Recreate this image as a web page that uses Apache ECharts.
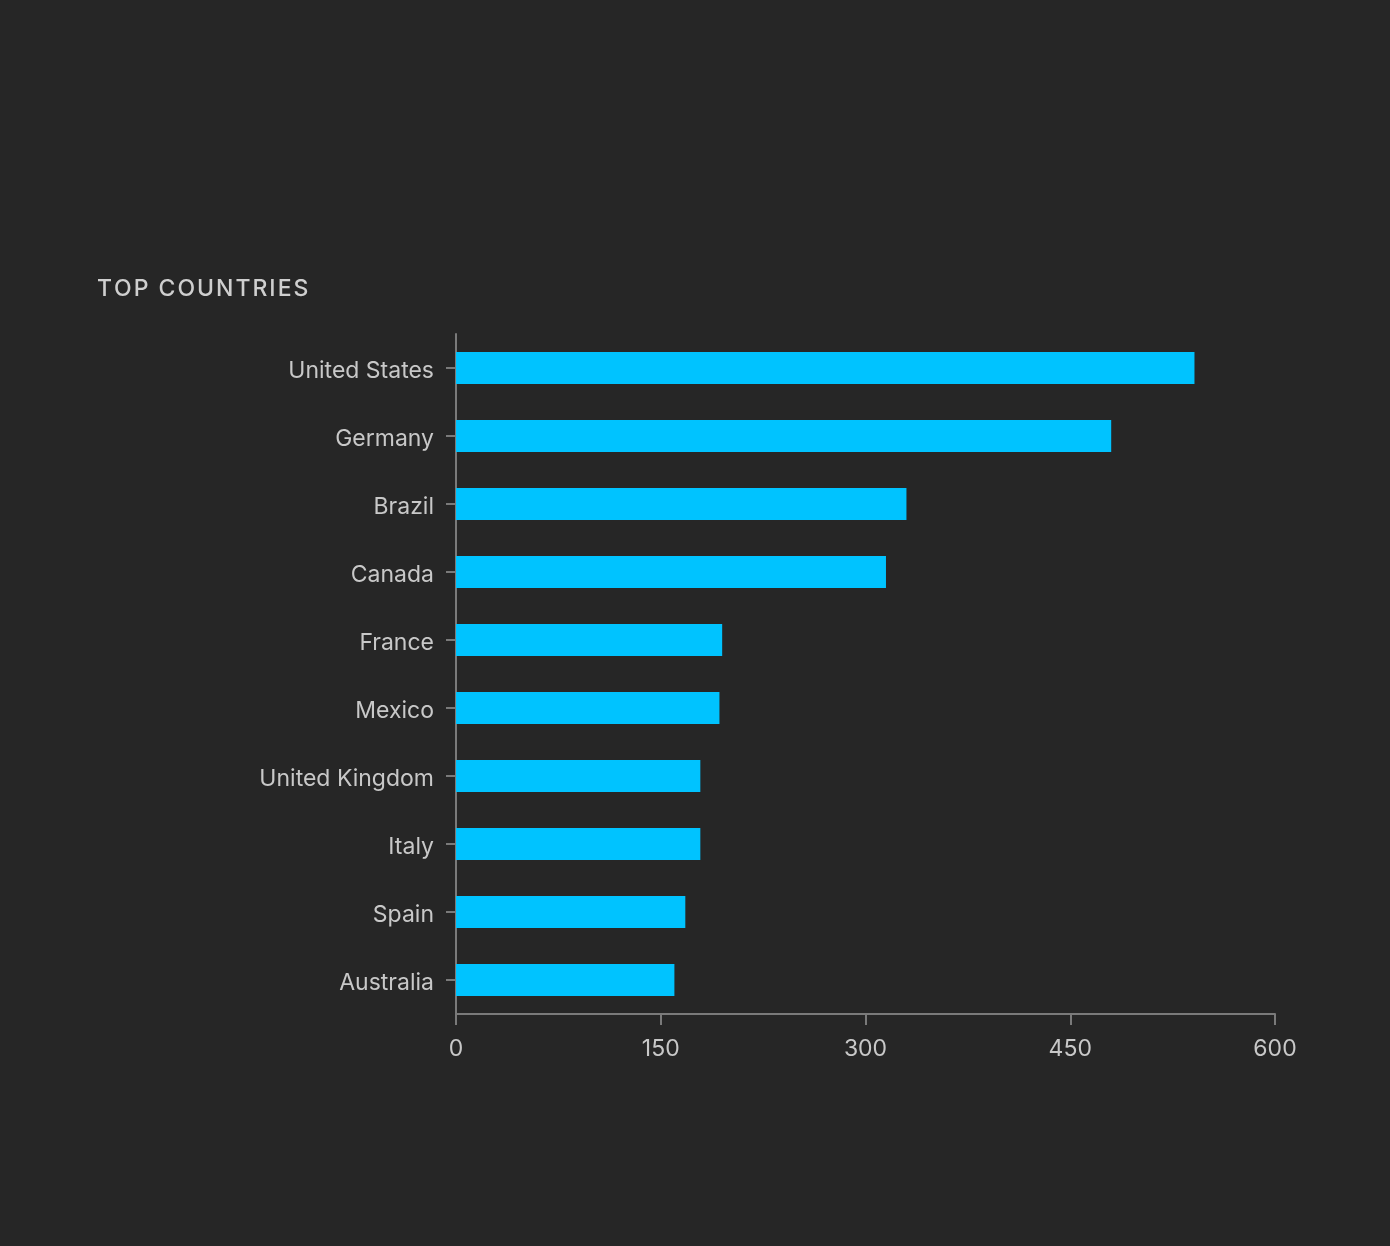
<!DOCTYPE html>
<html><head><meta charset="utf-8">
<style>html,body{margin:0;padding:0;background:#262626;}#c{width:1390px;height:1246px;}</style>
<script src="https://cdn.jsdelivr.net/npm/echarts@6/dist/echarts.min.js"></script>
</head><body><div id="c"></div>
<script>
const categories = ["United States","Germany","Brazil","Canada","France","Mexico","United Kingdom","Italy","Spain","Australia"];
const values = [541, 480, 330, 315, 195, 193, 179, 179, 168, 160];
const xTicks = [0, 150, 300, 450, 600];
const titleText = "TOP COUNTRIES";

const chart = echarts.init(document.getElementById('c'), null, {renderer:'canvas'});
const spaced = titleText.split('').join('\u200A');
chart.setOption({
  backgroundColor:'#262626',
  animation:false,
  title:{text:spaced,left:97,top:278,padding:0,textStyle:{color:'#cfcfcf',fontFamily:'Inter',fontWeight:500,fontSize:23}},
  grid:{left:456,right:115,top:334,bottom:232,containLabel:false},
  xAxis:{type:'value',min:xTicks[0],max:xTicks[xTicks.length-1],interval:150,
    axisLine:{show:true,lineStyle:{color:'#7a7a7a',width:2}},
    axisTick:{show:true,length:11,lineStyle:{color:'#7a7a7a',width:2}},
    splitLine:{show:false},
    axisLabel:{color:'#c8c8c8',fontFamily:'Inter',fontSize:23,margin:24}},
  yAxis:{type:'category',data:categories,inverse:true,
    axisLine:{show:true,lineStyle:{color:'#7a7a7a',width:2}},
    axisTick:{show:true,alignWithLabel:true,length:10,lineStyle:{color:'#7a7a7a',width:2}},
    axisLabel:{color:'#c8c8c8',fontFamily:'Inter',fontSize:23,margin:22,
      formatter:'{a|{value}}',
      rich:{a:{color:'#c8c8c8',fontFamily:'Inter',fontSize:23,padding:[6,0,0,0]}}}},
  series:[{type:'bar',data:values,barWidth:32,itemStyle:{color:'#00c3ff'}}]
});
</script></body></html>
